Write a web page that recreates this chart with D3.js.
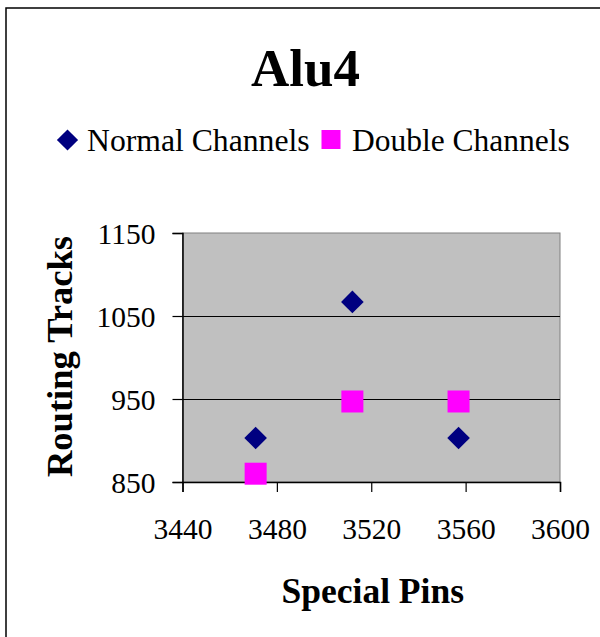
<!DOCTYPE html>
<html>
<head>
<meta charset="utf-8">
<script src="https://cdn.jsdelivr.net/npm/d3@7"></script>
<style>
  html, body { margin: 0; padding: 0; background: #fff; }
  svg { display: block; font-family: "Liberation Serif", "Times New Roman", serif; }
</style>
</head>
<body>
<svg id="chart" width="600" height="637"></svg>
<script>
// Special pin counts (x) for each run
const specialPins = [3471, 3512, 3557];
// Routing tracks per channel layout
const normalChannels = [903, 1067, 903];
const doubleChannels = [860, 947, 947];
const seriesNames = ["Normal Channels", "Double Channels"];
const xTicks = [3440, 3480, 3520, 3560, 3600];
const yTicks = [850, 950, 1050, 1150];

const svg = d3.select("#chart");
const W = 600, H = 637;

// outer chart frame
svg.append("rect")
  .attr("x", 6).attr("y", 8)
  .attr("width", W + 10).attr("height", H + 10)
  .attr("fill", "#fff").attr("stroke", "#000").attr("stroke-width", 1.5);

const plot = { left: 182.5, right: 560, top: 233, bottom: 482 };

const x = d3.scaleLinear().domain([3440, 3600]).range([plot.left, plot.right]);
const y = d3.scaleLinear().domain([850, 1150]).range([plot.bottom, plot.top]);

// plot area background
svg.append("rect")
  .attr("x", plot.left).attr("y", plot.top)
  .attr("width", plot.right - plot.left).attr("height", plot.bottom - plot.top)
  .attr("fill", "#c0c0c0").attr("stroke", "#808080").attr("stroke-width", 1);

// horizontal gridlines
svg.append("g")
  .selectAll("line")
  .data(yTicks.filter(v => v !== 850 && v !== 1150))
  .join("line")
  .attr("x1", plot.left).attr("x2", plot.right)
  .attr("y1", d => Math.round(y(d)) + 0.5).attr("y2", d => Math.round(y(d)) + 0.5)
  .attr("stroke", "#000").attr("stroke-width", 1);

// axes
const xAxis = d3.axisBottom(x).tickValues(xTicks).tickSize(10).tickPadding(26).tickFormat(d3.format("d"));
const yAxis = d3.axisLeft(y).tickValues(yTicks).tickSize(10).tickPadding(17).tickFormat(d3.format("d"));

const gx = svg.append("g").attr("transform", `translate(0,${plot.bottom})`).call(xAxis);
const gy = svg.append("g").attr("transform", `translate(${plot.left},0)`).call(yAxis);

[gx, gy].forEach(g => {
  g.selectAll("path.domain").attr("stroke", "#000").attr("stroke-width", 1.5);
  g.selectAll(".tick line").attr("stroke", "#000").attr("stroke-width", 1.2);
  g.selectAll(".tick text")
    .attr("fill", "#000")
    .style("font-family", "'Liberation Serif', 'Times New Roman', serif")
    .style("font-size", "29.5px");
});
gx.selectAll(".tick text").attr("dy", "0.71em");
gy.selectAll(".tick text").attr("dy", "0.36em");

// markers
const diamond = d3.symbol().type(d3.symbolSquare).size(16 * 16);
const square = d3.symbol().type(d3.symbolSquare).size(22 * 22);

svg.append("g")
  .selectAll("path")
  .data(specialPins.map((p, i) => [p, doubleChannels[i]]))
  .join("path")
  .attr("d", square)
  .attr("transform", d => `translate(${x(d[0])},${y(d[1])})`)
  .attr("fill", "#ff00ff");

svg.append("g")
  .selectAll("path")
  .data(specialPins.map((p, i) => [p, normalChannels[i]]))
  .join("path")
  .attr("d", diamond)
  .attr("transform", d => `translate(${x(d[0])},${y(d[1])}) rotate(45)`)
  .attr("fill", "#000080");

// title
svg.append("text")
  .attr("x", 305.5).attr("y", 86)
  .attr("text-anchor", "middle")
  .style("font-size", "53px").style("font-weight", "bold")
  .text("Alu4");

// legend
const legend = svg.append("g");
legend.append("path")
  .attr("d", d3.symbol().type(d3.symbolSquare).size(15 * 15))
  .attr("transform", "translate(67.5,140) rotate(45)")
  .attr("fill", "#000080");
legend.append("text")
  .attr("x", 87).attr("y", 151)
  .style("font-size", "31.7px")
  .text(seriesNames[0]);
legend.append("rect")
  .attr("x", 321.5).attr("y", 130).attr("width", 19).attr("height", 19)
  .attr("fill", "#ff00ff");
legend.append("text")
  .attr("x", 352).attr("y", 151)
  .style("font-size", "31.5px")
  .text(seriesNames[1]);

// axis titles
svg.append("text")
  .attr("x", (plot.left + plot.right) / 2 + 1.5).attr("y", 603)
  .attr("text-anchor", "middle")
  .style("font-size", "35.5px").style("font-weight", "bold")
  .text("Special Pins");

svg.append("text")
  .attr("transform", `translate(72,${(plot.top + plot.bottom) / 2 - 1}) rotate(-90)`)
  .attr("text-anchor", "middle")
  .style("font-size", "36.5px").style("font-weight", "bold")
  .text("Routing Tracks");
</script>
</body>
</html>
